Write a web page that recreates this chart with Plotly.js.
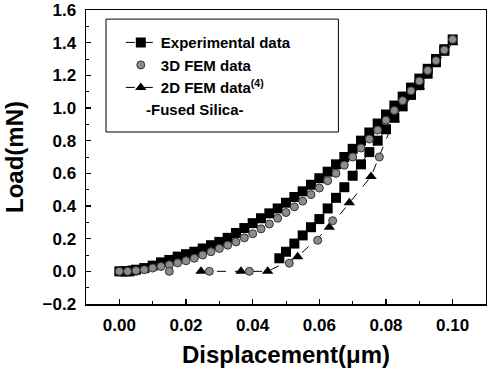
<!DOCTYPE html>
<html>
<head>
<meta charset="utf-8">
<script src="https://cdn.plot.ly/plotly-3.0.1.min.js"></script>
<style>html,body{margin:0;padding:0;background:#fff;}#chart{width:487px;height:374px;}</style>
</head>
<body>
<div id="chart"></div>
<script>
// Experimental data: loading branch then unloading branch
const expLoadX = [0, 0.001, 0.002, 0.003, 0.004, 0.005, 0.0075, 0.010, 0.0125, 0.015, 0.0175, 0.020, 0.0225, 0.025, 0.0275, 0.030, 0.0325, 0.035, 0.0375, 0.040, 0.0425, 0.045, 0.0475, 0.050, 0.0525, 0.055, 0.0575, 0.060, 0.0625, 0.065, 0.0675, 0.070, 0.0725, 0.075, 0.0775, 0.080, 0.0825, 0.085, 0.0875, 0.090, 0.0925, 0.095, 0.0975, 0.100];
const expLoadY = [0, 0, 0, 0, 0.005, 0.01, 0.02, 0.035, 0.055, 0.07, 0.09, 0.105, 0.12, 0.14, 0.16, 0.18, 0.205, 0.235, 0.265, 0.295, 0.325, 0.355, 0.385, 0.42, 0.455, 0.49, 0.53, 0.57, 0.61, 0.655, 0.70, 0.75, 0.80, 0.85, 0.905, 0.96, 1.015, 1.07, 1.125, 1.18, 1.24, 1.30, 1.36, 1.42];
const expUnloadX = [0.0975, 0.095, 0.0925, 0.090, 0.0875, 0.085, 0.0825, 0.080, 0.0775, 0.075, 0.0725, 0.070, 0.0675, 0.065, 0.0625, 0.060, 0.0575, 0.055, 0.0525, 0.050, 0.048];
const expUnloadY = [1.35, 1.28, 1.21, 1.14, 1.08, 1.01, 0.94, 0.87, 0.80, 0.73, 0.655, 0.585, 0.515, 0.45, 0.385, 0.32, 0.27, 0.22, 0.17, 0.12, 0.08];

// 3D FEM data
const fem3LoadX = [0, 0.0025, 0.005, 0.0075, 0.010, 0.0125, 0.015, 0.0175, 0.020, 0.0225, 0.025, 0.0275, 0.030, 0.0325, 0.035, 0.0375, 0.040, 0.0425, 0.045, 0.0475, 0.050, 0.0525, 0.055, 0.0575, 0.060, 0.0625, 0.065, 0.0675, 0.070, 0.0725, 0.075, 0.0775, 0.080, 0.0825, 0.085, 0.0875, 0.090, 0.0925, 0.095, 0.0975, 0.100];
const fem3LoadY = [0, 0, 0.005, 0.01, 0.02, 0.03, 0.04, 0.052, 0.065, 0.08, 0.10, 0.12, 0.14, 0.16, 0.18, 0.205, 0.23, 0.26, 0.29, 0.325, 0.36, 0.395, 0.43, 0.47, 0.51, 0.555, 0.60, 0.65, 0.70, 0.755, 0.81, 0.865, 0.925, 0.985, 1.045, 1.105, 1.165, 1.23, 1.29, 1.355, 1.42];
const fem3UnloadX = [0.078, 0.064, 0.0595, 0.051, 0.039, 0.027, 0.015];
const fem3UnloadY = [0.70, 0.31, 0.19, 0.05, 0, 0, 0];

// 2D FEM data (ref. 4)
const fem2X = [0.100, 0.090, 0.0825, 0.0755, 0.069, 0.063, 0.0535, 0.0445, 0.0365, 0.0245];
const fem2Y = [1.40, 1.13, 0.93, 0.58, 0.42, 0.27, 0.09, 0.0, 0.0, 0.0];

const seriesNames = ['Experimental data', '3D FEM data', '2D FEM data<sup>(4)</sup>'];
const noteText = '-Fused Silica-';
const xTitle = 'Displacement(μm)';
const yTitle = 'Load(mN)';

const FONT = 'Liberation Sans, Arial, Helvetica, sans-serif';

const traces = [
  {
    x: fem2X, y: fem2Y, name: seriesNames[2], legendrank: 3,
    type: 'scatter', mode: 'lines+markers',
    line: {color: '#000', width: 1, dash: 'dash'},
    marker: {symbol: 'triangle-up', size: 10, color: '#000'}
  },
  {
    x: expLoadX.concat(expUnloadX), y: expLoadY.concat(expUnloadY), name: seriesNames[0], legendrank: 1,
    type: 'scatter', mode: 'lines+markers',
    line: {color: '#000', width: 1, dash: 'dashdot'},
    marker: {symbol: 'square', size: 10, color: '#000'}
  },
  {
    x: fem3LoadX.concat(fem3UnloadX), y: fem3LoadY.concat(fem3UnloadY), name: seriesNames[1], legendrank: 2,
    type: 'scatter', mode: 'markers',
    marker: {symbol: 'circle', size: 8, color: '#8c8c8c', line: {color: '#333', width: 1}}
  }
];

const layout = {
  width: 487, height: 374,
  margin: {l: 86, r: 1, t: 10, b: 70},
  paper_bgcolor: '#fff', plot_bgcolor: '#fff',
  font: {family: FONT, color: '#000'},
  showlegend: true,
  xaxis: {
    range: [-0.01, 0.11], tick0: 0, dtick: 0.02, tickformat: '.2f',
    ticks: 'inside', ticklen: 5, tickwidth: 1.5, tickcolor: '#000',
    minor: {ticks: 'inside', dtick: 0.01, ticklen: 3, tickwidth: 1, tickcolor: '#000'},
    showline: true, linecolor: '#000', linewidth: 1.5, mirror: true,
    showgrid: false, zeroline: false,
    ticklabelstandoff: 5,
    tickfont: {family: FONT, size: 17, weight: 700},
    title: {text: xTitle, font: {family: FONT, size: 24, weight: 700}, standoff: 12}
  },
  yaxis: {
    range: [-0.2, 1.6], tick0: 0, dtick: 0.2, tickformat: '.1f',
    ticks: 'inside', ticklen: 5, tickwidth: 1.5, tickcolor: '#000',
    minor: {ticks: 'inside', dtick: 0.1, ticklen: 3, tickwidth: 1, tickcolor: '#000'},
    showline: true, linecolor: '#000', linewidth: 1.5, mirror: true,
    showgrid: false, zeroline: false,
    ticklabelstandoff: 5,
    tickfont: {family: FONT, size: 17, weight: 700},
    title: {text: yTitle, font: {family: FONT, size: 24, weight: 700}, standoff: 12}
  },
  legend: {
    x: 0.087, y: 0.945, xanchor: 'left', yanchor: 'top',
    bgcolor: 'rgba(0,0,0,0)', borderwidth: 0,
    font: {family: FONT, size: 15, weight: 700, color: '#000'},
    tracegroupgap: 0
  },
  shapes: [{
    type: 'rect', xref: 'paper', yref: 'paper',
    x0: 0.05, x1: 0.631, y0: 0.585, y1: 0.969,
    line: {color: '#000', width: 1}, fillcolor: 'rgba(0,0,0,0)'
  }],
  annotations: [{
    text: noteText, xref: 'paper', yref: 'paper', x: 0.145, y: 0.66,
    xanchor: 'left', yanchor: 'middle', showarrow: false,
    font: {family: FONT, size: 15, weight: 700, color: '#000'}
  }]
};

Plotly.newPlot('chart', traces, layout, {displayModeBar: false, staticPlot: true});
</script>
</body>
</html>
